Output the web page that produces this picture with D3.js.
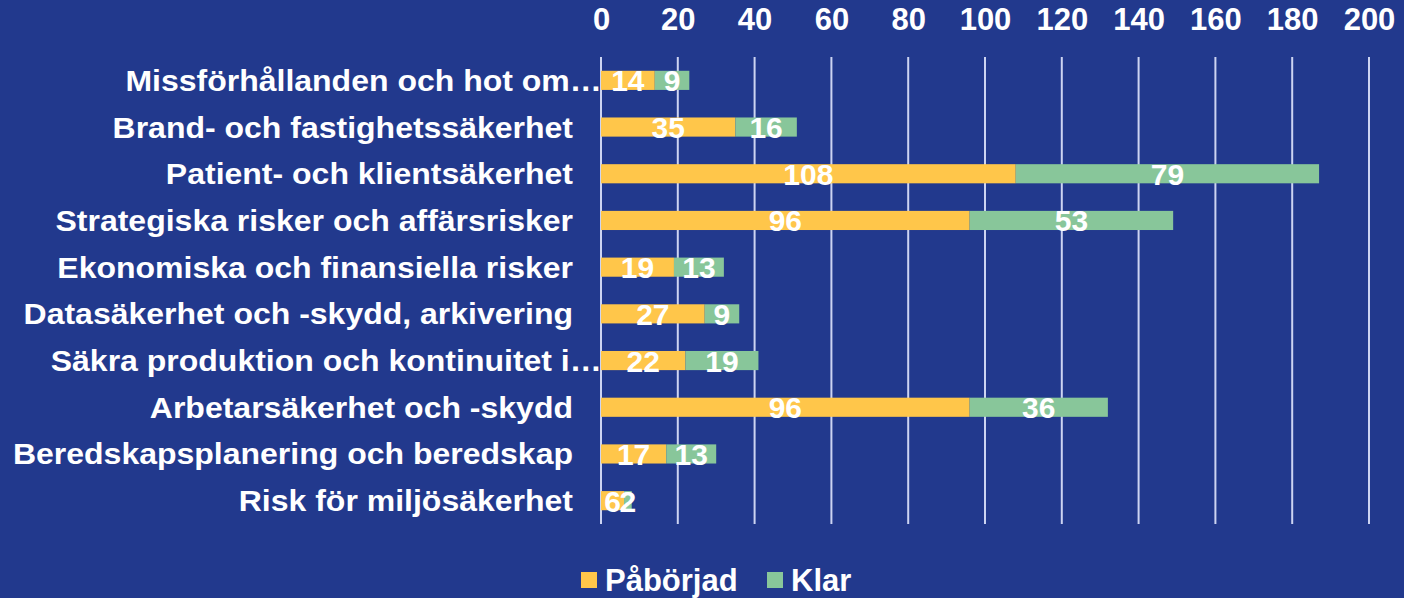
<!DOCTYPE html>
<html><head><meta charset="utf-8">
<script src="https://cdn.jsdelivr.net/npm/d3@7"></script>
<style>
html,body{margin:0;padding:0;background:#22398D;}
svg{display:block;}
text{font-family:"Liberation Sans",Arial,sans-serif;font-weight:bold;fill:#fff;}
</style></head>
<body>
<svg id="chart" width="1404" height="598"></svg>
<script>
const categories = [
  "Missförhållanden och hot om…",
  "Brand- och fastighetssäkerhet",
  "Patient- och klientsäkerhet",
  "Strategiska risker och affärsrisker",
  "Ekonomiska och finansiella risker",
  "Datasäkerhet och -skydd, arkivering",
  "Säkra produktion och kontinuitet i…",
  "Arbetarsäkerhet och -skydd",
  "Beredskapsplanering och beredskap",
  "Risk för miljösäkerhet"
];
const seriesNames = ["Påbörjad", "Klar"];
const paborjad = [14, 35, 108, 96, 19, 27, 22, 96, 17, 6];
const klar = [9, 16, 79, 53, 13, 9, 19, 36, 13, 2];
const xTicks = [0, 20, 40, 60, 80, 100, 120, 140, 160, 180, 200];
const colors = ["#FFC64A", "#88C69A"];

const svg = d3.select("#chart");
const x = d3.scaleLinear().domain([0, 200]).range([601, 1369]);
const y = d3.scaleBand().domain(categories).range([57, 524]).paddingInner(0.59).paddingOuter(0.295);

// gridlines
svg.append("g").selectAll("line").data(xTicks).join("line")
  .attr("x1", d => x(d)).attr("x2", d => x(d))
  .attr("y1", 57).attr("y2", 524)
  .attr("stroke", "#CDD4F2").attr("stroke-width", 2);

// top axis labels
const axis = d3.axisTop(x).tickValues(xTicks).tickSize(0).tickPadding(0);
const ag = svg.append("g").attr("transform", "translate(0,30)").call(axis);
ag.select(".domain").remove();
ag.selectAll("text").attr("dy", 0).style("font-size", "31px")
  .style("font-family", '"Liberation Sans",Arial,sans-serif').style("font-weight", "bold")
  .attr("fill", "#fff");

// stacked data
const rows = categories.map((c, i) => ({cat: c, Påbörjad: paborjad[i], Klar: klar[i]}));
const stack = d3.stack().keys(seriesNames)(rows);

const segs = svg.append("g").selectAll("g").data(stack).join("g")
  .attr("fill", (d, i) => colors[i]);
segs.selectAll("rect").data(d => d).join("rect")
  .attr("x", d => x(d[0]))
  .attr("width", d => x(d[1]) - x(d[0]))
  .attr("y", d => y(d.data.cat))
  .attr("height", y.bandwidth());

// value labels
const lg = svg.append("g");
stack.forEach(s => {
  s.forEach(d => {
    lg.append("text")
      .attr("x", (x(d[0]) + x(d[1])) / 2)
      .attr("y", y(d.data.cat) + y.bandwidth() / 2 + 11)
      .attr("text-anchor", "middle")
      .style("font-size", "30px")
      .text(d[1] - d[0]);
  });
});

// category labels (slightly wide glyphs as in reference)
const sx = 1.085;
const cg = svg.append("g").attr("transform", `translate(573,0) scale(${sx},1)`);
categories.forEach(c => {
  const t = cg.append("text")
    .attr("x", 0)
    .attr("y", y(c) + y.bandwidth() / 2 + 10.5)
    .attr("text-anchor", "end")
    .style("font-size", "29.5px")
    .text(c);
  if (c.endsWith("…")) {
    const n = c.length;
    const w = t.node().getSubStringLength(n - 1, 1);
    t.attr("x", w - 3);
  }
});

// legend
const legend = [{name: seriesNames[0], x: 581, c: colors[0]}, {name: seriesNames[1], x: 767, c: colors[1]}];
const leg = svg.append("g");
legend.forEach(l => {
  leg.append("rect").attr("x", l.x).attr("y", 572).attr("width", 16).attr("height", 16).attr("fill", l.c);
  leg.append("text").attr("x", l.x + 24).attr("y", 591).style("font-size", "31px").text(l.name);
});
</script>
</body></html>
